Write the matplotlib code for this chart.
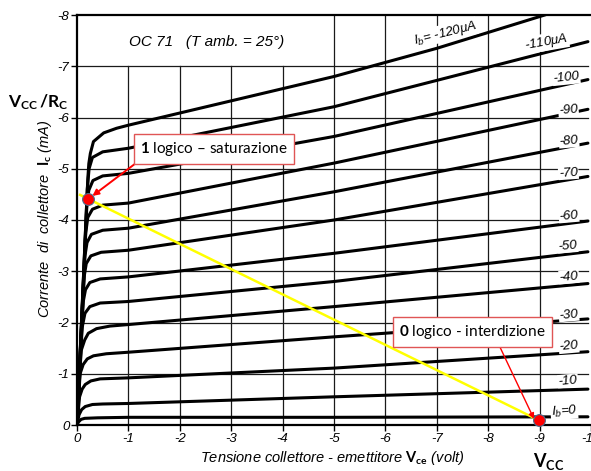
import matplotlib
matplotlib.use('Agg')
import matplotlib.pyplot as plt

plt.rcParams['axes.unicode_minus'] = False
plt.rcParams['mathtext.fontset'] = 'custom'
plt.rcParams['mathtext.rm'] = 'Lato'
plt.rcParams['mathtext.bf'] = 'Lato:bold'
plt.rcParams['mathtext.it'] = 'Liberation Sans:italic'

# ---------------- data ----------------
ib_values = [0, -10, -20, -30, -40, -50, -60, -70, -80, -90, -100, -110, -120]  # uA

curves_v = [
    [0, -0.03, -0.08, -0.15, -0.4, -1, -5, -9.94],
    [0, -0.04, -0.09, -0.16, -0.3, -0.5, -1, -5, -9.94],
    [0, -0.05, -0.1, -0.16, -0.27, -0.45, -1, -5, -9.94],
    [0, -0.06, -0.12, -0.2, -0.32, -0.57, -1, -5, -9.94],
    [0, -0.08, -0.15, -0.22, -0.38, -0.64, -1, -5, -9.94],
    [0, -0.1, -0.155, -0.25, -0.45, -1, -5, -9.94],
    [0, -0.12, -0.165, -0.25, -0.45, -1, -5, -9.94],
    [0, -0.14, -0.18, -0.27, -0.47, -1, -5, -9.94],
    [0, -0.155, -0.195, -0.28, -0.5, -1, -5, -9.94],
    [0, -0.17, -0.21, -0.3, -0.5, -1, -5, -9.94],
    [0, -0.19, -0.23, -0.31, -0.5, -1, -5, -9.94],
    [0, -0.2, -0.235, -0.3, -0.5, -1, -5, -9.94],
    [0, -0.21, -0.23, -0.26, -0.32, -0.52, -0.77, -1, -5, -7, -9.1, -9.94],
]
curves_i = [
    [0, -0.06, -0.11, -0.13, -0.14, -0.15, -0.15, -0.16],
    [0, -0.2, -0.3, -0.36, -0.40, -0.41, -0.42, -0.55, -0.70],
    [0, -0.55, -0.7, -0.79, -0.86, -0.9, -0.92, -1.11, -1.43],
    [0, -1.0, -1.18, -1.29, -1.35, -1.39, -1.42, -1.72, -2.07],
    [0, -1.45, -1.66, -1.79, -1.88, -1.93, -1.96, -2.31, -2.76],
    [0, -1.9, -2.18, -2.31, -2.38, -2.41, -2.80, -3.38],
    [0, -2.4, -2.64, -2.78, -2.85, -2.89, -3.35, -3.98],
    [0, -2.9, -3.15, -3.3, -3.37, -3.41, -4.00, -4.85],
    [0, -3.3, -3.56, -3.72, -3.8, -3.84, -4.55, -5.50],
    [0, -3.75, -4.05, -4.21, -4.29, -4.33, -5.11, -6.16],
    [0, -4.25, -4.58, -4.77, -4.86, -4.91, -5.63, -6.74],
    [0, -4.6, -5.0, -5.22, -5.33, -5.40, -6.21, -7.48],
    [0, -4.8, -5.1, -5.3, -5.53, -5.70, -5.79, -5.85, -6.80, -7.35, -8.0, -8.3],
]

curve_label_text = [r'$I_b$=0', '-10', '-20', '-30', '-40', '-50', '-60', '-70',
                    '-80', '-90', '-100', r'-110$\mu$A', r'$I_b$= -120$\mu$A']
curve_label_v = [-9.48, -9.55, -9.57, -9.57, -9.57, -9.55, -9.57, -9.56,
                 -9.57, -9.56, -9.52, -9.13, -7.16]
curve_label_i = [-0.27, -0.86, -1.53, -2.15, -2.89, -3.49, -4.08, -4.92,
                 -5.54, -6.15, -6.77, -7.47, -7.65]
curve_label_rot = [4, 5, 5, 5, 5, 5, 5, 4, 5, 5, 6, 10, 14]

x_ticks = [0, -1, -2, -3, -4, -5, -6, -7, -8, -9, -10]
y_ticks = [0, -1, -2, -3, -4, -5, -6, -7, -8]

load_line_v = [-0.06, -8.97]
load_line_i = [-4.49, -0.10]

sat_point = (-0.22, -4.40)
cut_point = (-8.98, -0.10)

# ---------------- figure ----------------
W, H = 591, 471
fig = plt.figure(figsize=(W / 100, H / 100), dpi=100)
ax = fig.add_axes([77 / W, 46 / H, 514 / W, 410 / H])
ax.set_xlim(0, -9.94)
ax.set_ylim(0, -8)

tick_font = dict(family='Liberation Sans', style='italic', size=9.5)

# grid
for xv in x_ticks[1:-1]:
    top = -7 if xv >= -4 else -8
    ax.plot([xv, xv], [0, top], color='#1a1a1a', lw=0.9, zorder=1)
for yv in y_ticks[1:-1]:
    ax.plot([0, -9.94], [yv, yv], color='#1a1a1a', lw=0.9, zorder=1)

# curves
for v, i in zip(curves_v, curves_i):
    ax.plot(v, i, color='black', lw=2.2, solid_joinstyle='round',
            solid_capstyle='round', zorder=3)

# curve labels
for t, lv, li, r in zip(curve_label_text, curve_label_v, curve_label_i, curve_label_rot):
    ax.text(lv, li, t, ha='center', va='center', rotation=r,
            fontsize=9.5, family='Liberation Sans', style='italic', zorder=4,
            bbox=dict(boxstyle='square,pad=0.05', fc='white', ec='none'))

# title
ax.text(-2.53, -7.47, 'OC 71   (T amb. = 25°)', ha='center', va='center',
        fontsize=11, family='Liberation Sans', style='italic', zorder=4)

# spines and ticks
for s in ['left', 'bottom', 'top']:
    ax.spines[s].set_linewidth(1.6)
    ax.spines[s].set_color('black')
ax.spines['right'].set_visible(False)
ax.set_xticks(x_ticks)
ax.set_yticks(y_ticks)
ax.set_xticklabels([str(t) for t in x_ticks], **tick_font)
ax.set_yticklabels([str(t) for t in y_ticks], **tick_font)
ax.tick_params(axis='both', direction='out', length=4, width=1, pad=1.5)

# axis labels
fig.text(332 / W, 1 - 458 / H,
         r'Tensione collettore - emettitore $\mathbf{V_{ce}}$ (volt)',
         ha='center', va='center', fontsize=10.5, family='Liberation Sans',
         style='italic')
fig.text(45 / W, 1 - 219 / H,
         r'Corrente  di  collettore  $\mathbf{I_c}$ (mA)',
         ha='center', va='center', rotation=90, fontsize=10.5,
         family='Liberation Sans', style='italic')

# load line
ax.plot(load_line_v, load_line_i, color='#FFFF00', lw=1.8, zorder=5, clip_on=False)

# points
for p in (sat_point, cut_point):
    ax.plot(p[0], p[1], 'o', ms=8.5, mfc='#FF0000', mec='#4F6D8F', mew=0.8,
            zorder=7, clip_on=False)

# annotation boxes
box_style = dict(boxstyle='square,pad=0.4', fc='white', ec='#E05555', lw=1.0)
ax.annotate('', xy=(-0.30, -4.47), xytext=(-1.16, -5.12),
            arrowprops=dict(arrowstyle='-|>', color='#FF0000', lw=1.4,
                            mutation_scale=9, shrinkA=0, shrinkB=0), zorder=6)
ax.text(-2.66, -5.39, r'$\mathbf{1}$ logico – saturazione', ha='center', va='center',
        fontsize=11, family='Lato', bbox=box_style, zorder=8)

ax.annotate('', xy=(-8.89, -0.12), xytext=(-8.21, -1.56),
            arrowprops=dict(arrowstyle='-|>', color='#FF0000', lw=1.0,
                            mutation_scale=8, shrinkA=0, shrinkB=0), zorder=6)
ax.text(-7.69, -1.82, r'$\mathbf{0}$ logico - interdizione', ha='center', va='center',
        fontsize=11, family='Lato', bbox=box_style, zorder=8)

# V_CC labels
fig.text(38 / W, 1 - 102 / H, r'$\mathbf{V_{CC}\,/R_C}$', ha='center', va='center',
         fontsize=12.5)
fig.text(549 / W, 1 - 461 / H, r'$\mathbf{V_{CC}}$', ha='center', va='center',
         fontsize=13)

fig.savefig('out.png', dpi=100)
